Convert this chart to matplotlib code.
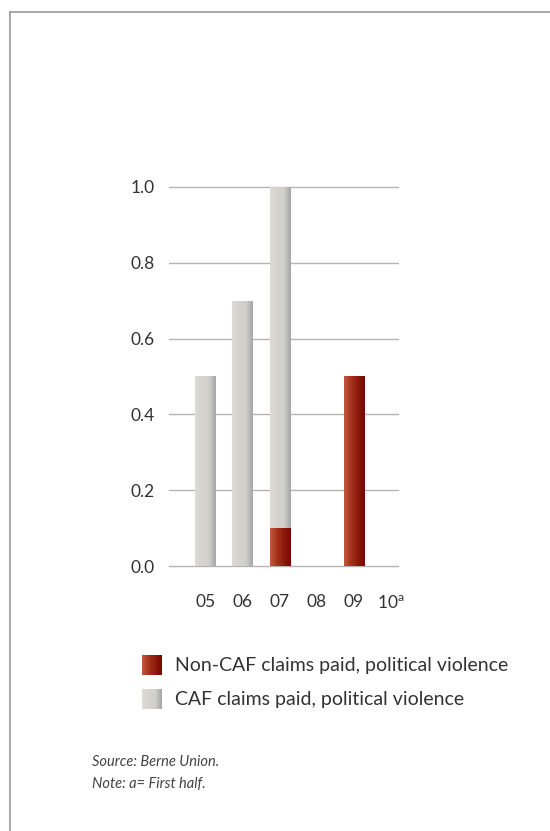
import numpy as np
import matplotlib
matplotlib.use('Agg')
import matplotlib.pyplot as plt
from matplotlib.lines import Line2D
from matplotlib.colors import LinearSegmentedColormap

plt.rcParams['font.family'] = ['Lato', 'DejaVu Sans']

# data (US$ billion)
years = ['05', '06', '07', '08', '09', '10$^{\\mathregular{a}}$']
non_caf = [0.0, 0.0, 0.1, 0.0, 0.5, 0.0]
caf = [0.5, 0.7, 0.9, 0.0, 0.0, 0.0]
yticks = [0.0, 0.2, 0.4, 0.6, 0.8, 1.0]
legend_labels = ['Non-CAF claims paid, political violence',
                 'CAF claims paid, political violence']
source_lines = ['Source: Berne Union.', 'Note: a= First half.']

grey_cmap = LinearSegmentedColormap.from_list(
    'greys', ['#dedbd6', '#d6d3ce', '#d2d0cc', '#a3a4a7'])
red_cmap = LinearSegmentedColormap.from_list(
    'reds', ['#c25a3e', '#a8321f', '#8c1a0c', '#730804'])
grad = np.linspace(0, 1, 256).reshape(1, -1)


# fill a bar patch with a left-to-right gradient
def shade(ax, patch, cmap):
    x, y = patch.get_x(), patch.get_y()
    w, h = patch.get_width(), patch.get_height()
    if h <= 0:
        return
    im = ax.imshow(grad, cmap=cmap, aspect='auto', extent=(x, x + w, y, y + h),
                   zorder=3, interpolation='bicubic')
    im.set_clip_path(patch)


W, H = 550, 831
fig = plt.figure(figsize=(W / 100, H / 100), dpi=100)

# page frame
fig.add_artist(Line2D([10 / W, 1], [1 - 12 / H, 1 - 12 / H], color='#9a9a9a', lw=1.2))
fig.add_artist(Line2D([10 / W, 10 / W], [0, 1 - 12 / H], color='#9a9a9a', lw=1.2))

ax = fig.add_axes([169 / W, 1 - 573.6 / H, 230 / W, (573.6 - 168) / H])
x = np.arange(len(years))
bw = 0.54
b1 = ax.bar(x, non_caf, bw, color='#9a2a18', zorder=2)
b2 = ax.bar(x, caf, bw, bottom=non_caf, color='#d4d1cc', zorder=2)
for p in b1:
    shade(ax, p, red_cmap)
for p in b2:
    shade(ax, p, grey_cmap)

ax.set_xlim(-0.98, 5.22)
ax.set_ylim(-0.02, 1.05)
for yv in yticks:
    ax.axhline(yv, color='#b4b4b4', lw=1.0, zorder=1)
ax.set_yticks(yticks)
ax.set_yticklabels(['%.1f' % v for v in yticks])
ax.set_xticks(x)
ax.set_xticklabels(years)
ax.tick_params(length=0, labelsize=12.5, colors='#333333')
ax.tick_params(axis='y', pad=10)
ax.tick_params(axis='x', pad=15)
for s in ax.spines.values():
    s.set_visible(False)

# legend
lax = fig.add_axes([0, 0, 1, 1])
lax.set_xlim(0, W)
lax.set_ylim(H, 0)
lax.axis('off')
for i, (lab, cmap) in enumerate(zip(legend_labels, [red_cmap, grey_cmap])):
    y0 = 655 + i * 34
    lax.imshow(grad, cmap=cmap, aspect='auto', extent=(142, 162, y0 + 20, y0),
               interpolation='bicubic')
    lax.text(175, y0 + 11, lab, fontsize=14, color='#333333', va='center')
lax.set_xlim(0, W)
lax.set_ylim(H, 0)

for i, line in enumerate(source_lines):
    lax.text(92, 762 + i * 22, line, fontsize=10.5, style='italic', color='#444444',
             va='center')

fig.savefig('out.png', dpi=100)
